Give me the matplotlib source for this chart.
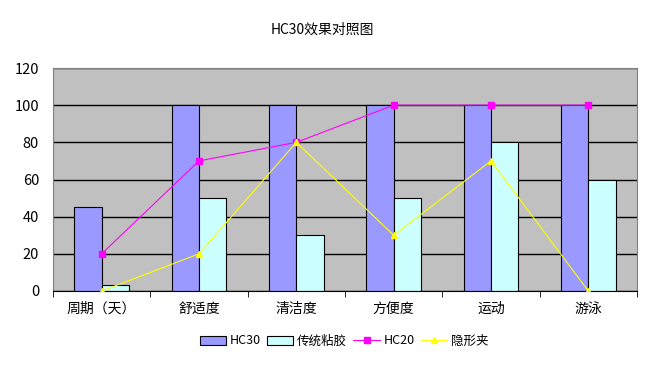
import numpy as np
import matplotlib.pyplot as plt
from matplotlib.lines import Line2D
from matplotlib.patches import Patch

plt.rcParams['font.family'] = ['Noto Sans CJK SC', 'DejaVu Sans']

categories = ['周期（天）', '舒适度', '清洁度', '方便度', '运动', '游泳']
hc30 = [45, 100, 100, 100, 100, 100]
glue = [3, 50, 30, 50, 80, 60]
hc20 = [20, 70, 80, 100, 100, 100]
clip = [0, 20, 80, 30, 70, 0]

fig = plt.figure(figsize=(6.61, 3.71), dpi=100)
ax = fig.add_axes([53/661, 1-291/371, (637-53)/661, (291-68)/371])
ax.set_facecolor('#C0C0C0')

x = np.arange(len(categories))
w = 0.28
ax.bar(x - w/2, hc30, w, color='#9999FF', edgecolor='black', linewidth=0.8, zorder=2)
ax.bar(x + w/2, glue, w, color='#CCFFFF', edgecolor='black', linewidth=0.8, zorder=2)
ax.plot(x, hc20, color='#FF00FF', lw=0.8, marker='s', ms=4, zorder=3)
ax.plot(x, clip, color='#FFFF00', lw=0.8, marker='^', ms=4, zorder=3)

ax.set_xlim(-0.5, len(categories) - 0.5)
ax.set_ylim(0, 120)
ax.set_yticks(range(0, 121, 20))
ax.yaxis.grid(True, color='black', lw=1, zorder=1)
ax.set_axisbelow(True)
ax.set_xticks(x)
ax.set_xticklabels(categories, fontsize=10)
ax.set_xticks(np.arange(-0.5, len(categories)), minor=True)
ax.tick_params(axis='x', which='major', length=0, pad=8)
ax.tick_params(axis='x', which='minor', length=4, direction='out')
ax.tick_params(axis='y', length=0, labelsize=10.5, pad=10)
for s in ['top', 'right', 'left']:
    ax.spines[s].set_color('#808080')
ax.spines['bottom'].set_color('black')

fig.text(322/661, 1-30/371, 'HC30效果对照图', ha='center', va='center', fontsize=10)

handles = [
    Patch(facecolor='#9999FF', edgecolor='black', lw=0.8),
    Patch(facecolor='#CCFFFF', edgecolor='black', lw=0.8),
    Line2D([], [], color='#FF00FF', lw=0.8, marker='s', ms=4),
    Line2D([], [], color='#FFFF00', lw=0.8, marker='^', ms=4),
]
fig.legend(handles, ['HC30', '传统粘胶', 'HC20', '隐形夹'], loc='center',
           bbox_to_anchor=(344/661, 1-341/371), ncol=4, frameon=False,
           fontsize=9, handlelength=2.1, handleheight=0.7, columnspacing=0.5,
           handletextpad=0.3)

fig.savefig('out.png', dpi=100)
